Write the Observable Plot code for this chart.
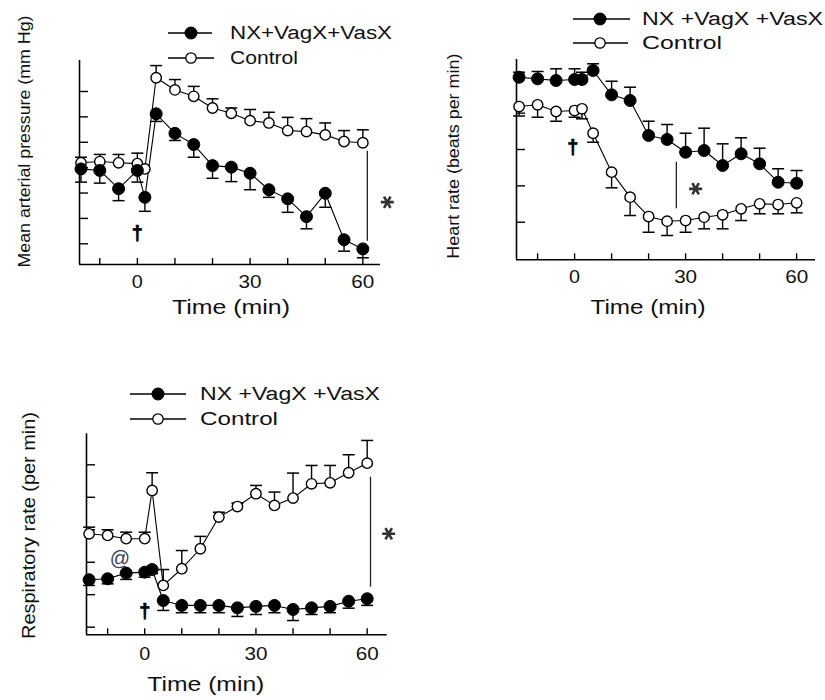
<!DOCTYPE html>
<html><head><meta charset="utf-8">
<script src="https://cdn.jsdelivr.net/npm/d3@7"></script>
<script src="https://cdn.jsdelivr.net/npm/@observablehq/plot@0.6"></script>
<style>
body{margin:0;background:#fff;}
#wrap{position:relative;width:825px;height:700px;overflow:hidden;background:#fff;}
#wrap svg{position:absolute;overflow:visible;}
</style></head><body><div id="wrap"></div>
<script>
// ---------- shared ----------
const time = [-15,-10,-5,0,2,5,10,15,20,25,30,35,40,45,50,55,60];
const xTickLabels = [0,30,60];
const xMinorTicks = [-10,0,10,20,30,40,50,60];
const seriesNames = ["NX+VagX+VasX", "Control"];
const xTitle = "Time (min)";

// ---------- Mean arterial pressure (mm Hg) ----------
const mapNX      = [89.5,88.9,81.7,88.9,78.3,111.2,103.5,99.1,90.8,90.2,87.8,81.3,77.7,70.7,79.9,61.6,58.0];
const mapNXsem   = [5.2,5.0,4.7,4.6,5.5,3.0,2.8,5.0,5.0,5.7,6.5,3.0,5.3,4.8,5.5,4.5,3.5];
const mapCtrl    = [91.9,92.4,91.9,91.6,89.5,125.4,120.6,118.1,113.5,111.4,108.5,107.6,104.6,104.2,102.9,100.3,99.8];
const mapCtrlSem = [2.2,2.8,3.3,4.1,0,4.8,4.1,3.9,3.6,2.1,4.4,4.2,5.2,5.1,4.7,4.3,5.1];
const mapTicks   = [60,70,80,90,100,110,120];
const mapSig     = [{t:61.2, from:96.5, to:61.0}];
const mapStar    = [{t:66.5, v:76.4}];
const mapArrow   = [{t:0, v:64.1}];

// ---------- Heart rate (beats per min) ----------
const hrNX      = [499.4,497.2,494.9,496.3,496.3,508.7,475.2,467.4,419.3,413.8,396.3,398.6,378.0,394.1,380.3,355.0,353.6];
const hrNXsem   = [6.9,10.1,16.1,14.7,10.0,9.2,18.7,18.3,19.6,20.6,26.1,30.7,29.8,22.0,21.5,18.5,17.5];
const hrCtrl    = [459.1,461.5,452.3,453.6,456.0,422.4,368.8,334.4,307.8,301.4,302.3,306.9,310.2,318.4,325.3,324.3,326.7];
const hrCtrlSem = [13.0,17.1,13.4,9.2,13.8,12.4,21.5,25.2,21.6,19.7,16.1,16.0,19.3,16.1,13.7,12.7,13.8];
const hrTicks   = [300,350,400,450,500];
const hrSig     = [{t:27.5, from:382.5, to:318.4}];
const hrStar    = [{t:32.7, v:345.9}];
const hrArrow   = [{t:-0.5, v:402.7}];

// ---------- Respiratory rate (per min) ----------
const rrNX      = [69.2,69.8,73.3,73.9,75.5,56.4,53.4,53.4,53.4,51.9,52.8,53.4,50.9,51.9,52.8,56.0,57.5];
const rrNXsem   = [3.5,3.1,3.9,3.1,2.5,6.1,4.5,4.5,4.5,5.3,5.0,4.5,6.8,4.1,3.9,4.3,4.1];
const rrCtrl    = [97.5,96.5,94.5,94.5,124.2,65.7,76.0,88.3,107.8,114.3,122.2,115.0,119.5,128.3,128.9,135.1,141.0];
const rrCtrlSem = [4.1,3.5,4.0,4.0,10.9,9.8,11.2,7.6,3.0,2.1,5.1,8.2,15.4,11.3,10.7,11.1,14.0];
const rrTicks   = [40,60,80,100,120,140];
const rrSig     = [{t:60.9, from:132.4, to:64.6}];
const rrStar    = [{t:65.8, v:97.5}];
const rrArrow   = [{t:0, v:49.8}];
const rrAt      = [{t:-6.7, v:82.1}];

// ---------- drawing ----------
const FONT = "'Liberation Sans', Arial, sans-serif";
const INK = "#111";
const capSymbol = {draw(ctx, size){const r = Math.sqrt(size/Math.PI); ctx.moveTo(-r,0); ctx.lineTo(r,0);}};
const starSymbol = {draw(ctx, size){
  const r = Math.sqrt(size/Math.PI);
  for (const a of [0, Math.PI/3, 2*Math.PI/3]) {
    ctx.moveTo(-r*Math.cos(a), -r*Math.sin(a)); ctx.lineTo(r*Math.cos(a), r*Math.sin(a));
  }
}};

function stretch(svg, str, len) {
  d3.select(svg).selectAll("text").filter(function(){return this.textContent === str;})
    .attr("textLength", len).attr("lengthAdjust", "spacingAndGlyphs");
}

function panel(cfg) {
  const {left, top, width, height, ml, mr, mt, mb, xDomain, yDomain} = cfg;
  const pxX = (width - ml - mr) / (xDomain[1] - xDomain[0]);
  const pxY = (height - mt - mb) / (yDomain[1] - yDomain[0]);
  const rows = (vals, sem, dir) => time.map((t, i) => ({t, v: vals[i], e: vals[i] + dir * sem[i], s: sem[i]}));
  const nx = rows(cfg.nx, cfg.nxSem, cfg.nxDir);
  const ct = rows(cfg.ctrl, cfg.ctrlSem, cfg.ctrlDir);
  const errMarks = (r) => [
    Plot.ruleX(r.filter(d => d.s > 0), {x: "t", y1: "v", y2: "e", stroke: "#000", strokeWidth: 1.4}),
    Plot.dot(r.filter(d => d.s > 0), {x: "t", y: "e", symbol: capSymbol, r: 6, stroke: "#000", strokeWidth: 1.5, fill: "none"})
  ];
  const marks = [
    Plot.ruleX([xDomain[0]], {stroke: "#000", strokeWidth: 1.6}),
    Plot.ruleY([yDomain[0]], {stroke: "#000", strokeWidth: 1.6}),
    Plot.ruleY(cfg.yTicks, {y: d => d, x1: xDomain[0], x2: xDomain[0] + 9 / pxX, stroke: "#000", strokeWidth: 1.4}),
    Plot.ruleX(xMinorTicks, {x: d => d, y1: yDomain[0], y2: yDomain[0] + 6 / pxY, stroke: "#000", strokeWidth: 1.4}),
    Plot.text(xTickLabels, {x: d => d, y: yDomain[0], dy: cfg.tickDy, text: d => String(d), fontSize: 18, fill: INK, fontFamily: FONT}),
    Plot.text([xTitle], {frameAnchor: "bottom", textAnchor: "middle", dx: cfg.xtDx, dy: cfg.xtDy, fontSize: 20, fill: INK, fontFamily: FONT}),
    Plot.text([cfg.yTitle], {frameAnchor: "left", textAnchor: "middle", dx: cfg.ytDx, dy: cfg.ytDy, rotate: -90, fontSize: cfg.ytSize, fill: INK, fontFamily: FONT}),
    Plot.ruleX(cfg.sig, {x: "t", y1: "from", y2: "to", stroke: "#222", strokeWidth: 1.3}),
    Plot.dot(cfg.star, {x: "t", y: "v", symbol: starSymbol, r: 6.5, stroke: "#333", strokeWidth: 2.6}),
    Plot.text(cfg.arrow, {x: "t", y: "v", text: () => "\u2020", fontSize: 20, fontWeight: "bold", fill: "#000", stroke: "#000", strokeWidth: 0.7, fontFamily: FONT}),
    Plot.line(ct, {x: "t", y: "v", stroke: "#000", strokeWidth: 1.1}),
    Plot.line(nx, {x: "t", y: "v", stroke: "#000", strokeWidth: 1.1}),
    ...errMarks(ct), ...errMarks(nx),
    Plot.dot(ct, {x: "t", y: "v", r: 5.2, fill: "#fff", stroke: "#000", strokeWidth: 1.4}),
    Plot.dot(nx, {x: "t", y: "v", r: 6, fill: "#000", stroke: "#000", strokeWidth: 1})
  ];
  if (cfg.at) marks.push(Plot.text(cfg.at, {x: "t", y: "v", text: () => "@", fontSize: 20, fill: "#3a4060", fontFamily: FONT}));
  const svg = Plot.plot({
    width, height, marginLeft: ml, marginRight: mr, marginTop: mt, marginBottom: mb,
    x: {domain: xDomain, axis: null}, y: {domain: yDomain, axis: null},
    style: {fontFamily: FONT, background: "transparent", overflow: "visible"},
    marks
  });
  svg.style.left = left + "px"; svg.style.top = top + "px";
  // legend
  const g = d3.select(svg).append("g").attr("text-anchor", "start");
  cfg.legend.forEach((L, i) => {
    g.append("line").attr("x1", L.x0).attr("x2", L.x1).attr("y1", L.y).attr("y2", L.y).attr("stroke", "#000").attr("stroke-width", 1.3);
    g.append("circle").attr("cx", L.xm).attr("cy", L.y).attr("r", i === 0 ? 5.8 : 5.2)
      .attr("fill", i === 0 ? "#000" : "#fff").attr("stroke", "#000").attr("stroke-width", 1.3);
    g.append("text").attr("x", L.tx).attr("y", L.y).attr("dy", "0.36em").attr("font-size", 18)
      .attr("text-anchor", "start")
      .attr("font-family", FONT).attr("fill", INK).text(L.label)
      .attr("textLength", L.len).attr("lengthAdjust", "spacingAndGlyphs");
  });
  stretch(svg, xTitle, cfg.xtLen);
  stretch(svg, cfg.yTitle, cfg.ytLen);
  ["0","30","60"].forEach(s => stretch(svg, s, s.length === 1 ? 11 : 23));
  document.getElementById("wrap").appendChild(svg);
}

panel({
  left: 0, top: 0, width: 410, height: 330, ml: 79, mr: 30, mt: 60, mb: 66,
  xDomain: [-15.4, 64.7], yDomain: [51.85, 132.2], yTicks: mapTicks,
  nx: mapNX, nxSem: mapNXsem, nxDir: -1, ctrl: mapCtrl, ctrlSem: mapCtrlSem, ctrlDir: 1,
  sig: mapSig, star: mapStar, arrow: mapArrow,
  tickDy: 18, xtDx: 1, xtDy: 49, xtLen: 118,
  yTitle: "Mean arterial pressure (mm Hg)", ytDx: -55, ytDy: -21, ytSize: 16, ytLen: 252,
  legend: [
    {x0: 168, x1: 212, xm: 191, y: 33, label: seriesNames[0], tx: 230, len: 162},
    {x0: 168, x1: 214, xm: 191, y: 58, label: seriesNames[1], tx: 230, len: 68}
  ]
});

panel({
  left: 410, top: 0, width: 415, height: 330, ml: 106, mr: 10, mt: 59, mb: 70.7,
  xDomain: [-15.7, 65.1], yDomain: [248.3, 523.8], yTicks: hrTicks,
  nx: hrNX, nxSem: hrNXsem, nxDir: 1, ctrl: hrCtrl, ctrlSem: hrCtrlSem, ctrlDir: -1,
  sig: hrSig, star: hrStar, arrow: hrArrow,
  tickDy: 17.5, xtDx: -18, xtDy: 54, xtLen: 115,
  yTitle: "Heart rate (beats per min)", ytDx: -62.7, ytDy: -3.5, ytSize: 16, ytLen: 205,
  legend: [
    {x0: 163, x1: 220, xm: 190, y: 19, label: "NX +VagX +VasX", tx: 232, len: 181},
    {x0: 163, x1: 218, xm: 190, y: 43, label: seriesNames[1], tx: 232, len: 80}
  ]
});

panel({
  left: 0, top: 370, width: 410, height: 330, ml: 86, mr: 23.3, mt: 63.3, mb: 65.7,
  xDomain: [-15.7, 65.4], yDomain: [35.3, 159.1], yTicks: rrTicks,
  nx: rrNX, nxSem: rrNXsem, nxDir: -1, ctrl: rrCtrl, ctrlSem: rrCtrlSem, ctrlDir: 1,
  sig: rrSig, star: rrStar, arrow: rrArrow, at: rrAt,
  tickDy: 19, xtDx: -31, xtDy: 55.7, xtLen: 117,
  yTitle: "Respiratory rate (per min)", ytDx: -57.7, ytDy: -8.8, ytSize: 18, ytLen: 227,
  legend: [
    {x0: 130, x1: 186, xm: 158, y: 24, label: "NX +VagX +VasX", tx: 200, len: 180},
    {x0: 130, x1: 186, xm: 158, y: 49, label: seriesNames[1], tx: 200, len: 78}
  ]
});
</script></body></html>
